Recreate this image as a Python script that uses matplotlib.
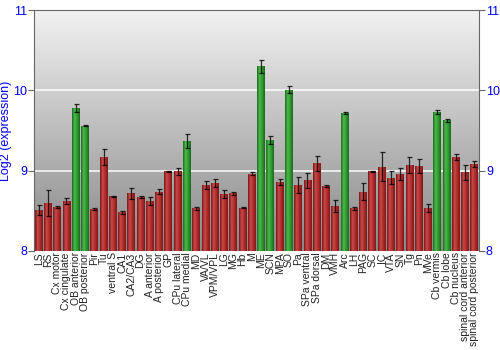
import numpy as np
import matplotlib
matplotlib.use('Agg')
import matplotlib.pyplot as plt
from matplotlib.colors import LinearSegmentedColormap

plt.rcParams['font.family'] = ['Liberation Sans', 'DejaVu Sans']

# regions, expression values (log2) and error bars
regions = ['LS', 'RS', 'Cx motor', 'Cx cingulate', 'OB anterior', 'OB posterior',
           'Pir', 'Tu', 'ventral S', 'CA1', 'CA2/CA3', 'DG', 'A anterior',
           'A posterior', 'GP', 'CPu lateral', 'CPu medial', 'MD', 'VA/VL',
           'VPM/VPL', 'LG', 'MG', 'Hb', 'M', 'ME', 'SCN', 'MPA', 'SO', 'Pa',
           'SPa ventral', 'SPa dorsal', 'DM', 'VMH', 'Arc', 'LH', 'PAG', 'SC',
           'IC', 'VTA', 'SN', 'Tg', 'Pn', 'MVe', 'Cb vermis', 'Cb lobe',
           'Cb nucleus', 'spinal cord anterior', 'spinal cord posterior']
values = [8.51, 8.60, 8.55, 8.62, 9.78, 9.56, 8.52, 9.17, 8.68, 8.48, 8.72, 8.67,
          8.62, 8.74, 8.99, 8.99, 9.37, 8.53, 8.82, 8.85, 8.71, 8.72, 8.54, 8.96,
          10.30, 9.38, 8.86, 10.01, 8.82, 8.88, 9.09, 8.81, 8.56, 9.72, 8.53,
          8.74, 8.99, 9.05, 8.91, 8.96, 9.07, 9.06, 8.53, 9.73, 9.63, 9.17,
          8.98, 9.08]
errors = [0.06, 0.16, 0.01, 0.04, 0.05, 0.005, 0.01, 0.10, 0.01, 0.02, 0.07, 0.01,
          0.05, 0.03, 0.005, 0.04, 0.09, 0.02, 0.05, 0.05, 0.05, 0.02, 0.005, 0.02,
          0.08, 0.05, 0.04, 0.04, 0.10, 0.09, 0.09, 0.01, 0.08, 0.01, 0.02,
          0.11, 0.01, 0.18, 0.08, 0.07, 0.10, 0.09, 0.05, 0.02, 0.02, 0.04,
          0.09, 0.04]
highlight = ['OB anterior', 'OB posterior', 'CPu medial', 'ME', 'SCN', 'SO',
             'Arc', 'Cb vermis', 'Cb lobe']

blue = '#0000ff'
fig = plt.figure(figsize=(5, 3.5), dpi=100)
ax = fig.add_axes([0.068, 0.283, 0.89, 0.688])

x = np.arange(len(regions))
ax.set_xlim(-0.5, len(regions) - 0.5)
ax.set_ylim(8, 11)

# grey background gradient
bg = LinearSegmentedColormap.from_list('bg', ['#888888', '#f2f2f2'])
ax.imshow(np.linspace(0, 1, 256).reshape(-1, 1), cmap=bg, aspect='auto',
          extent=(-0.5, len(regions) - 0.5, 8, 11), origin='lower', zorder=0)
for gy in [9, 10]:
    ax.axhline(gy, color='white', lw=1.2, alpha=0.9, zorder=1)

red_cm = LinearSegmentedColormap.from_list('r', ['#7a1616', '#c84a4a', '#b02a2a', '#7e1818'])
green_cm = LinearSegmentedColormap.from_list('g', ['#1c6e1c', '#4cb84c', '#2f9a2f', '#1a681a'])
shade = np.linspace(0, 1, 64).reshape(1, -1)

colors = ['#2f9a2f' if r in highlight else '#b02a2a' for r in regions]
bars = ax.bar(x, np.array(values) - 8, bottom=8, width=0.85, color=colors, zorder=2)
for b, r in zip(bars, regions):
    cm = green_cm if r in highlight else red_cm
    im = ax.imshow(shade, cmap=cm, aspect='auto', zorder=3,
                   extent=(b.get_x(), b.get_x() + b.get_width(), 8, b.get_y() + b.get_height()))
    im.set_clip_path(b)
ax.errorbar(x, values, yerr=errors, fmt='none', ecolor='black', elinewidth=0.9,
            capsize=1.8, capthick=0.9, alpha=0.8, zorder=4)

ax.set_xticks(x)
ax.set_xticklabels(regions, rotation=90, fontsize=7.5, color='#222222')
ax.tick_params(axis='x', length=0, pad=1)
ax.set_yticks([8, 9, 10, 11])
ax.tick_params(axis='y', colors='#666666', labelcolor=blue, labelsize=9,
               length=4, pad=1, right=True, labelright=True)
ax.set_ylabel('Log2 (expression)', color=blue, fontsize=9, labelpad=1)
for s in ['top', 'left', 'right']:
    ax.spines[s].set_color('#666666')
ax.spines['bottom'].set_visible(False)

fig.savefig('out.png', dpi=100)
